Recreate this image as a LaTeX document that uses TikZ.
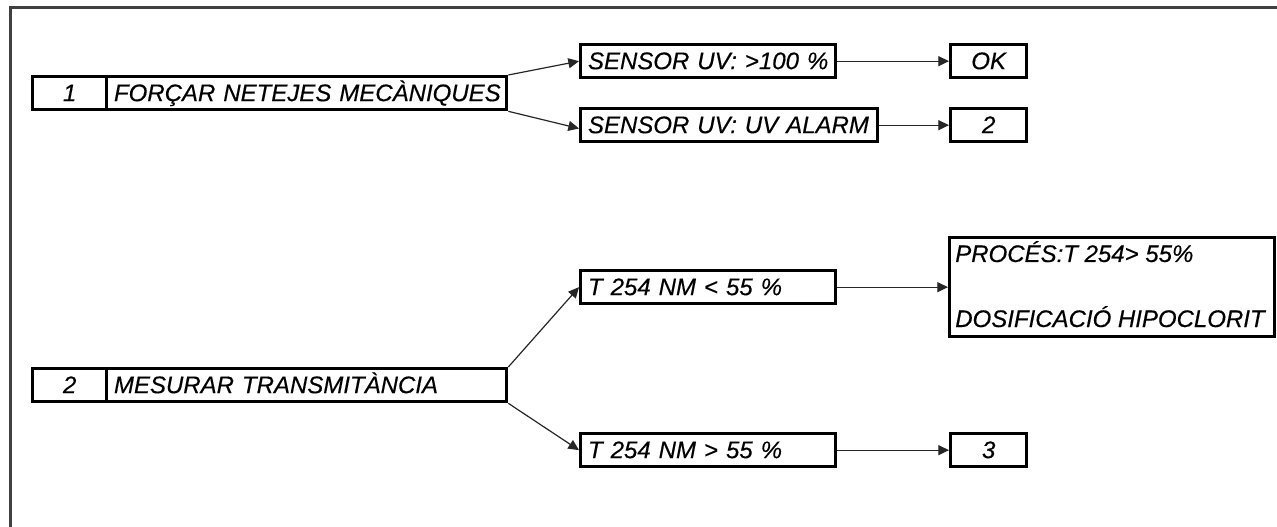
\documentclass[tikz,border=0pt]{standalone}
\usepackage{fontspec}
\setmainfont{Liberation Sans}
\newfontfamily\diagfont[FakeBold=0.35, ItalicFeatures={FakeBold=0.35}]{Liberation Sans}
\usetikzlibrary{arrows.meta}
\begin{document}
\begin{tikzpicture}[x=0.75pt,y=-0.75pt,
  every node/.style={font=\diagfont\fontsize{18pt}{21.6pt}\selectfont\itshape, text=black},
  cell/.style={draw=black, line width=2.5pt, anchor=north west, inner ysep=0pt,
    minimum height=24.75pt, text height=13pt, text depth=1pt},
  cbox/.style={cell, inner xsep=0pt, align=center},
  lbox/.style={cell, inner xsep=5.5pt, align=left, text width=#1-11pt, minimum width=#1},
  conn/.style={draw=black!85, line width=0.9pt, -{Triangle[length=8pt,width=7.5pt]}},
  frameline/.style={draw=black!75, line width=2.25pt}]
\useasboundingbox (0,0) rectangle (1277,527);
\draw[frameline] (10,527) -- (10,8) -- (1277,8);
% group 1
\node[cbox, minimum width=55.5pt] (n1) at (31,75) {1};
\node[lbox=300pt] (t1) at (105,75) {\mbox{FORÇAR NETEJES MECÀNIQUES}};
\node[lbox=191.25pt] (s1) at (579,43) {\mbox{SENSOR UV: >100 \%}};
\node[lbox=222.75pt] (s2) at (579,107) {\mbox{SENSOR UV: UV ALARM}};
\node[cbox, minimum width=57pt] (ok) at (949,43) {OK};
\node[cbox, minimum width=57pt] (two) at (949,107) {2};
\draw[conn] (t1.north east) -- (s1.west);
\draw[conn] (t1.south east) -- ([yshift=-2.5pt]s2.west);
\draw[conn] (s1.east) -- (ok.west);
\draw[conn] (s2.east) -- (two.west);
% group 2
\node[cbox, minimum width=55.5pt] (n2) at (31,367) {2};
\node[lbox=300pt] (t2) at (105,367) {\mbox{MESURAR TRANSMITÀNCIA}};
\node[lbox=191.25pt] (tlt) at (579,269) {\mbox{T 254 NM < 55 \%}};
\node[lbox=191.25pt] (tgt) at (579,432) {\mbox{T 254 NM > 55 \%}};
\node[draw=black, line width=2.5pt, anchor=north west, minimum width=243.75pt, minimum height=74.25pt] (proc) at (948,236) {};
\node[anchor=base west, inner sep=0pt] (proca) at (955,262) {PROCÉS:T 254> 55\%};
\node[anchor=base west, inner sep=0pt] (procb) at (955,327) {DOSIFICACIÓ HIPOCLORIT};
\node[cbox, minimum width=57pt] (three) at (949,432) {3};
\draw[conn] (t2.north east) -- (tlt.west);
\draw[conn] (t2.south east) -- (tgt.west);
\draw[conn] (tlt.east) -- (proc.west);
\draw[conn] (tgt.east) -- (three.west);
\end{tikzpicture}
\end{document}
